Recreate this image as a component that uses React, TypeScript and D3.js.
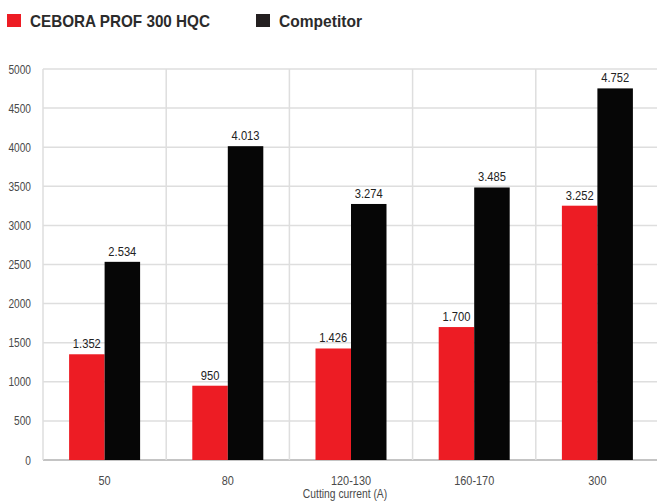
import React from "react";
import * as d3 from "d3";

const categories = ["50", "80", "120-130", "160-170", "300"];
const ceboraValues = [1352, 950, 1426, 1700, 3252];
const competitorValues = [2534, 4013, 3274, 3485, 4752];
const yTicks = [0, 500, 1000, 1500, 2000, 2500, 3000, 3500, 4000, 4500, 5000];
const seriesNames = ["CEBORA PROF 300 HQC", "Competitor"];
const xTitle = "Cutting current (A)";

const W = 657;
const H = 502;
const RED = "#ED1C24";
const BLACK = "#060606";
const FONT = "'Liberation Sans', Arial, sans-serif";

const fmt = (v: number) => (v >= 1000 ? d3.format(",")(v).replace(/,/g, ".") : String(v));

function CText(props: { x: number; y: number; sx?: number; size: number; anchor?: string; fill?: string; weight?: string; children: React.ReactNode }) {
  const { x, y, sx = 0.8, size, anchor = "start", fill = "#4a4a4a", weight = "normal", children } = props;
  return (
    <text
      transform={`translate(${x},${y}) scale(${sx},1)`}
      textAnchor={anchor}
      fontFamily={FONT}
      fontSize={size}
      fontWeight={weight}
      fill={fill}
    >
      {children}
    </text>
  );
}

export default function App() {
  const left = 43;
  const right = 659;
  const top = 69;
  const bottom = 460;
  const x = d3.scaleBand<string>().domain(categories).range([left, right]).paddingInner(0).paddingOuter(0);
  const y = d3.scaleLinear().domain([0, 5000]).range([bottom, top]);
  const barW = 35.5;

  return (
    <svg width={W} height={H} style={{ position: "absolute", left: 0, top: 0, background: "#fff" }}>
      {/* legend */}
      <rect x={7} y={14} width={14} height={13} fill={RED} />
      <text x={30} y={27} fontFamily={FONT} fontWeight="bold" fontSize={17} fill="#2b2b2b" textLength={180} lengthAdjust="spacingAndGlyphs">
        {seriesNames[0]}
      </text>
      <rect x={256} y={14} width={14} height={13} fill="#231f20" />
      <text x={279} y={27} fontFamily={FONT} fontWeight="bold" fontSize={17} fill="#2b2b2b" textLength={83} lengthAdjust="spacingAndGlyphs">
        {seriesNames[1]}
      </text>

      {/* grid */}
      {yTicks.map((t) => (
        <line key={"h" + t} x1={left} x2={W} y1={y(t)} y2={y(t)} stroke={t === 0 ? "#c4c4c4" : "#dedede"} strokeWidth={t === 0 ? 2 : 1.5} />
      ))}
      {categories.map((c) => (
        <line key={"v" + c} x1={x(c)!} x2={x(c)!} y1={top} y2={bottom} stroke="#dedede" strokeWidth={1.5} />
      ))}

      {/* y tick labels */}
      {yTicks.map((t) => (
        <CText key={"yt" + t} x={31} y={y(t) + 4.5} anchor="end" size={13} sx={0.78}>
          {t}
        </CText>
      ))}

      {/* bars */}
      {categories.map((c, i) => {
        const cx = x(c)! + x.bandwidth() / 2;
        const rv = ceboraValues[i];
        const bv = competitorValues[i];
        return (
          <g key={"b" + c}>
            <rect x={cx - barW} y={y(rv)} width={barW} height={bottom - y(rv)} fill={RED} />
            <rect x={cx} y={y(bv)} width={barW} height={bottom - y(bv)} fill={BLACK} />
            <CText x={cx - barW / 2} y={y(rv) - 6} anchor="middle" size={13} sx={0.86} fill="#222">
              {fmt(rv)}
            </CText>
            <CText x={cx + barW / 2} y={y(bv) - 6} anchor="middle" size={13} sx={0.86} fill="#222">
              {fmt(bv)}
            </CText>
            <CText x={cx} y={485} anchor="middle" size={13} sx={0.84}>
              {c}
            </CText>
          </g>
        );
      })}

      <CText x={345} y={497.5} anchor="middle" size={12} sx={0.86}>
        {xTitle}
      </CText>
    </svg>
  );
}
